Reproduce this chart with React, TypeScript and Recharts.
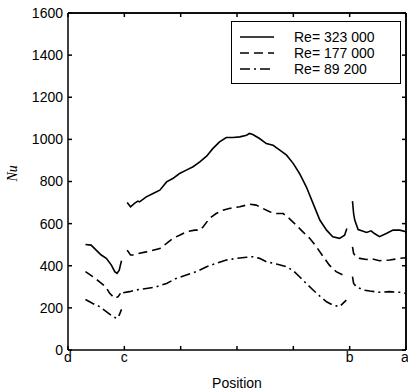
import { Line, LineChart, ReferenceLine, XAxis, YAxis } from 'recharts'

// positions along the wall: d=0, c=1, b=5, a=6 (null = gap in the measurement)
const hiPos = [0.31, 0.41, 0.5, 0.59, 0.68, 0.77, 0.83, 0.87, 0.91, 0.93, 0.95, 1.0,
  1.05, 1.11, 1.18, 1.24, 1.27, 1.39, 1.51, 1.63, 1.75, 1.86, 1.98, 2.1, 2.22, 2.34, 2.46, 2.57, 2.69, 2.81, 2.93, 3.05, 3.17, 3.22, 3.28, 3.4, 3.52, 3.64, 3.76, 3.88, 4.0, 4.11, 4.23, 4.35, 4.47, 4.59, 4.7, 4.82, 4.91, 4.95, 5.0,
  5.05, 5.07, 5.09, 5.15, 5.24, 5.3, 5.38, 5.44, 5.53, 5.65, 5.77, 5.89, 6.0]
const hiNu = [501, 498, 474, 451, 435, 403, 372, 364, 379, 403, 424, null,
  700, 680, 696, 707, 703, 727, 743, 759, 798, 814, 838, 854, 870, 893, 920, 956, 988, 1009, 1009, 1012, 1020, 1028, 1023, 1004, 980, 972, 949, 925, 885, 838, 775, 696, 617, 569, 538, 530, 545, 577, null,
  707, 648, 617, 572, 564, 558, 566, 553, 538, 553, 569, 569, 561]

const midPos = [0.31, 0.44, 0.56, 0.67, 0.74, 0.83, 0.89, 0.93, 1.0,
  1.05, 1.11, 1.15, 1.27, 1.39, 1.51, 1.63, 1.75, 1.86, 1.98, 2.1, 2.25, 2.34, 2.4, 2.51, 2.63, 2.75, 2.86, 3.05, 3.22, 3.34, 3.46, 3.58, 3.7, 3.82, 3.93, 4.05, 4.17, 4.29, 4.41, 4.53, 4.64, 4.76, 4.88, 4.96, 5.0,
  5.05, 5.07, 5.11, 5.18, 5.3, 5.41, 5.53, 5.71, 5.89, 6.0]
const midNu = [372, 348, 324, 300, 269, 245, 253, 269, null,
  474, 451, 451, 459, 466, 474, 482, 506, 530, 545, 561, 569, 569, 585, 624, 648, 664, 672, 680, 692, 688, 672, 656, 648, 648, 624, 593, 561, 530, 490, 443, 403, 372, 356, 356, null,
  490, 459, 443, 435, 430, 432, 424, 427, 435, 438]

const loPos = [0.31, 0.44, 0.56, 0.68, 0.8, 0.87, 0.91, 0.95, 0.97,
  0.98, 1.09, 1.21, 1.39, 1.57, 1.75, 1.92, 2.1, 2.28, 2.46, 2.63, 2.81, 2.99, 3.17, 3.28, 3.4, 3.52, 3.7, 3.88, 4.0, 4.11, 4.23, 4.35, 4.47, 4.59, 4.7, 4.82, 4.94, 5.0,
  5.05, 5.07, 5.12, 5.24, 5.36, 5.53, 5.71, 5.89, 6.0]
const loNu = [240, 221, 206, 182, 158, 150, 166, 193, null,
  272, 277, 285, 292, 300, 316, 340, 356, 372, 395, 411, 427, 435, 440, 443, 435, 419, 408, 395, 376, 348, 316, 285, 256, 229, 213, 206, 237, null,
  348, 316, 300, 285, 280, 274, 277, 274, 269]

const xTicks = [0, 1, 2, 3, 4, 5, 6]
const xLabels = ['d', 'c', '', '', '', 'b', 'a']
const yTicks = [0, 200, 400, 600, 800, 1000, 1200, 1400, 1600]

const seriesNames = ['Re= 323 000', 'Re= 177 000', 'Re= 89 200']
const dashes = ['', '9 5', '10 4 2 4']

const toRows = (pos: number[], nu: (number | null)[]) => pos.map((x, i) => ({ x, nu: nu[i] }))

const FONT = 'Arial, "Liberation Sans", Helvetica, sans-serif'

function LegendBox() {
  return (
    <div style={{ position: 'absolute', left: 231, top: 21, border: '1.5px solid #000', background: '#fff', width: 170, height: 63, boxSizing: 'border-box', padding: '7px 0 0 8px', fontFamily: FONT, fontSize: 14, color: '#000', lineHeight: '16px' }}>
      {seriesNames.map((n, i) => (
        <div key={n} style={{ display: 'flex', alignItems: 'center', height: 16 }}>
          <svg width={34} height={6}>
            <line x1={0} y1={3} x2={34} y2={3} stroke="#000" strokeWidth={1.5} strokeDasharray={dashes[i]} />
          </svg>
          <span style={{ marginLeft: 20 }}>{n}</span>
        </div>
      ))}
    </div>
  )
}

export default function App() {
  const tickStyle = { fontSize: 14, fill: '#000', fontFamily: FONT }
  return (
    <div style={{ position: 'absolute', left: 0, top: 0, width: 408, height: 392 }}>
      <LineChart width={408} height={392} margin={{ top: 13, right: 2, bottom: 12, left: 8 }}>
        <XAxis
          type="number"
          dataKey="x"
          domain={[0, 6]}
          ticks={xTicks}
          tickFormatter={(v: number) => xLabels[v] ?? ''}
          tick={tickStyle}
          tickSize={-4}
          tickMargin={6}
          height={30}
          stroke="#000"
          strokeWidth={1.5}
          label={{ value: 'Position', position: 'insideBottom', offset: -8, style: { fontSize: 14, fill: '#000', fontFamily: FONT } }}
        />
        <XAxis xAxisId="top" orientation="top" mirror type="number" dataKey="x" domain={[0, 6]} ticks={xTicks} tick={{ fontSize: 1, fill: 'none' }} tickSize={4} height={10} stroke="#000" strokeWidth={1.5} />
        <YAxis
          type="number"
          domain={[0, 1600]}
          ticks={yTicks}
          tick={tickStyle}
          tickSize={-4}
          tickMargin={9}
          width={60}
          stroke="#000"
          strokeWidth={1.5}
          label={{ value: 'Nu', angle: -90, position: 'insideLeft', offset: 4, style: { fontSize: 14, fill: '#000', fontFamily: '"Liberation Serif", "Times New Roman", serif', fontStyle: 'italic' } }}
        />
        <YAxis yAxisId="right" orientation="right" mirror type="number" domain={[0, 1600]} ticks={yTicks} tick={{ fontSize: 1, fill: 'none' }} tickSize={4} width={10} stroke="#000" strokeWidth={1.5} />
        <ReferenceLine y={1600} stroke="#000" strokeWidth={1.5} ifOverflow="visible" />
        <ReferenceLine x={6} stroke="#000" strokeWidth={1.5} ifOverflow="visible" />
        <Line data={toRows(hiPos, hiNu)} dataKey="nu" name={seriesNames[0]} stroke="#000" strokeWidth={1.6} dot={false} isAnimationActive={false} />
        <Line data={toRows(midPos, midNu)} dataKey="nu" name={seriesNames[1]} stroke="#000" strokeWidth={1.6} strokeDasharray={dashes[1]} dot={false} isAnimationActive={false} />
        <Line data={toRows(loPos, loNu)} xAxisId="top" yAxisId="right" dataKey="nu" name={seriesNames[2]} stroke="#000" strokeWidth={1.6} strokeDasharray={dashes[2]} dot={false} isAnimationActive={false} />
      </LineChart>
      <LegendBox />
    </div>
  )
}
